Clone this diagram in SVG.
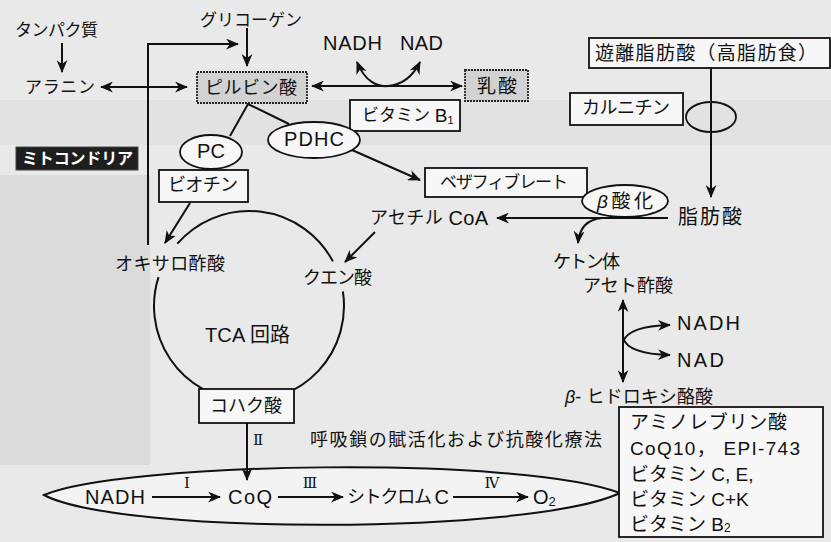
<svg xmlns="http://www.w3.org/2000/svg" width="831" height="542" viewBox="0 0 831 542">
<style>
text{font-family:"Liberation Sans","Noto Sans CJK JP",sans-serif;font-size:18px;fill:#111;dominant-baseline:central}
.lt{font-size:20px}
.ln{fill:none;stroke:#111;stroke-width:2}
.box{fill:#f7f7f7;stroke:#111;stroke-width:1.8}
.gbox{fill:#d2d2d2;stroke:#222;stroke-width:1.8;stroke-dasharray:2 1}
.ell{fill:#f7f7f7;stroke:#111;stroke-width:1.8}
.arr{fill:none;stroke:#111;stroke-width:2;marker-end:url(#ah)}
.arr2{fill:none;stroke:#111;stroke-width:2;marker-end:url(#ah);marker-start:url(#ah)}
.rn{font-family:"DejaVu Serif","Noto Sans CJK JP",serif;font-size:15px;text-anchor:middle}
.rb{font-size:19px}
</style>
<defs>
<marker id="ah" viewBox="0 0 12 10" refX="11" refY="5" markerWidth="13" markerHeight="11" orient="auto-start-reverse" markerUnits="userSpaceOnUse">
<path d="M0,0 L12,5 L0,10 L3.5,5 Z" fill="#111"/>
</marker>
</defs>
<rect x="0" y="0" width="831" height="542" fill="#e9e9e9"/>
<rect x="0" y="100" width="831" height="45" fill="#e2e2e2"/>
<rect x="0" y="175" width="150" height="290" fill="#dbdbdb"/>

<g id="resp-chain">
<path d="M44,495 C120,462 520,455 620,493 C530,535 120,535 44,495 Z" fill="#f3f3f3" stroke="#111" stroke-width="2"/>
</g>

<g id="connectors">
<path class="arr" d="M62,43 L62,72"/>
<path class="arr2" d="M101,87 L187,87"/>
<path class="arr" d="M148,245 L148,44 L238,44"/>
<path class="arr" d="M247,28 L247,66"/>
<path class="arr2" d="M312,86 L462,86"/>
<path class="arr2" d="M357,62 C365,82 378,87 388,86 C400,85 412,78 420,62"/>
<path class="ln" d="M230,136 L248,104 L289,124"/>
<path class="arr" d="M352,150 L420,180"/>
<path class="arr" d="M190,203 L165,243"/>
<path class="arr" d="M375,232 L345,262"/>
<path class="arr" d="M668,218 L497,218"/>
<path class="arr" d="M602,218 Q580,220 578,243"/>
<path class="arr" d="M711,68 L711,197"/>
<path class="arr" d="M247,423 L247,480"/>
<path class="arr" d="M152,497 L220,497"/>
<path class="arr" d="M278,497 L343,497"/>
<path class="arr" d="M453,497 L528,497"/>
<path class="arr2" d="M623,300 L623,382"/>
<path class="arr" d="M623,342 Q628,326 670,325"/>
<path class="arr" d="M623,338 Q628,354 670,355"/>
</g>

<g id="tca-cycle">
<path class="ln" d="M177.3,243.7 A95,95 0 0 1 332.9,261.4"/>
<path class="ln" d="M342.9,291.5 A95,95 0 1 1 158.5,277.1"/>
<text x="205" y="335" textLength="85" class="lt">TCA 回路</text>
</g>

<g id="protein"><text x="15" y="30" textLength="83" style="font-size:17px">タンパク質</text></g>
<g id="glycogen"><text x="200" y="20" textLength="102" style="font-size:17px">グリコーゲン</text></g>
<g id="alanine"><text x="25" y="87" textLength="70" style="font-size:17px">アラニン</text></g>
<g id="pyruvate"><rect class="gbox" x="197" y="72" width="110" height="31"/><text x="205" y="88" textLength="92">ピルビン酸</text></g>
<g id="nadh-top"><text x="323" y="43" textLength="59" class="lt">NADH</text></g>
<g id="nad-top"><text x="400" y="43" textLength="43" class="lt">NAD</text></g>
<g id="lactate"><rect class="gbox" x="465" y="70" width="63" height="31"/><text x="477" y="86" textLength="40" style="font-size:19px">乳酸</text></g>
<g id="vitb1"><rect class="box" x="350" y="100" width="110" height="31"/><text x="362" y="115" style="font-size:17px">ビタミン <tspan style="font-size:19px">B</tspan><tspan dy="5" style="font-size:11px">1</tspan></text></g>
<g id="pc"><ellipse class="ell" cx="211" cy="152" rx="31" ry="17"/><text x="211" y="151" text-anchor="middle" class="lt">PC</text></g>
<g id="pdhc"><ellipse class="ell" cx="314" cy="140" rx="46" ry="18"/><text x="314" y="139" text-anchor="middle" textLength="60" class="lt">PDHC</text></g>
<g id="mitochondria"><rect x="16" y="147" width="122" height="23" fill="#1e1e1e" stroke="#444" stroke-width="1"/><text x="22" y="158" textLength="111" style="font-size:16px;fill:#fff;font-weight:bold">ミトコンドリア</text></g>
<g id="biotin"><rect class="box" x="159" y="170" width="89" height="32"/><text x="168" y="185" textLength="70">ビオチン</text></g>
<g id="bezafibrate"><rect class="box" x="425" y="168" width="162" height="29"/><text x="440" y="182" textLength="128" style="font-size:17px">ベザフィブレート</text></g>
<g id="beta-ox"><ellipse class="ell" cx="625" cy="201" rx="43" ry="16"/><text x="597" y="201" textLength="56" style="font-size:19px"><tspan font-style="italic">β</tspan>酸化</text></g>
<g id="acetylcoa"><text x="370" y="218" textLength="118">アセチル <tspan style="font-size:20px">CoA</tspan></text></g>
<g id="ffa"><rect class="box" x="589" y="38" width="241" height="30"/><text x="595" y="53" textLength="222" style="font-size:19px">遊離脂肪酸（高脂肪食）</text></g>
<g id="carnitine"><rect class="box" x="570" y="93" width="113" height="32"/><text x="582" y="108" textLength="88">カルニチン</text></g>
<g id="carnitine-ring"><ellipse cx="711" cy="117" rx="25" ry="15" fill="none" stroke="#111" stroke-width="1.8"/></g>
<g id="fattyacid"><text x="678" y="217" textLength="64" style="font-size:20px">脂肪酸</text></g>
<g id="ketone"><text x="553" y="262" textLength="67">ケトン体</text></g>
<g id="acetoacetate"><text x="583" y="286" textLength="90">アセト酢酸</text></g>
<g id="nadh-r"><text x="677" y="323" textLength="63" class="lt">NADH</text></g>
<g id="nad-r"><text x="677" y="360" textLength="47" class="lt">NAD</text></g>
<g id="hydroxybutyrate"><text x="565" y="397" textLength="148"><tspan font-style="italic">β</tspan>- ヒドロキシ酪酸</text></g>
<g id="oxaloacetate"><text x="115" y="264" textLength="110">オキサロ酢酸</text></g>
<g id="citrate"><text x="303" y="278" textLength="69">クエン酸</text></g>
<g id="succinate"><rect class="box" x="199" y="389" width="95" height="34"/><text x="210" y="406" textLength="72">コハク酸</text></g>
<g id="label-ii"><text class="rn" x="258" y="440">Ⅱ</text></g>
<g id="title"><text x="310" y="440" textLength="292">呼吸鎖の賦活化および抗酸化療法</text></g>

<g id="chain-labels">
<text x="85" y="497" textLength="60" class="lt">NADH</text>
<text class="rn" x="187" y="483">Ⅰ</text>
<text x="228" y="497" textLength="44" class="lt">CoQ</text>
<text class="rn" x="310" y="483">Ⅲ</text>
<text x="347" y="497" textLength="102">シトクロム <tspan style="font-size:20px">C</tspan></text>
<text class="rn" x="492" y="483">Ⅳ</text>
<text x="533" y="497" class="lt">O<tspan dy="4" style="font-size:13px">2</tspan></text>
</g>

<g id="therapy">
<rect class="box" x="619" y="407" width="204" height="130" fill="#fafafa"/>
<text x="630" y="422" textLength="157" class="rb">アミノレブリン酸</text>
<text x="630" y="448" textLength="170" class="rb">CoQ10， EPI-743</text>
<text x="630" y="474" class="rb">ビタミン C,  E,</text>
<text x="630" y="499" class="rb">ビタミン C+K</text>
<text x="630" y="524" class="rb">ビタミン B<tspan dy="4" style="font-size:12px">2</tspan></text>
</g>
</svg>
